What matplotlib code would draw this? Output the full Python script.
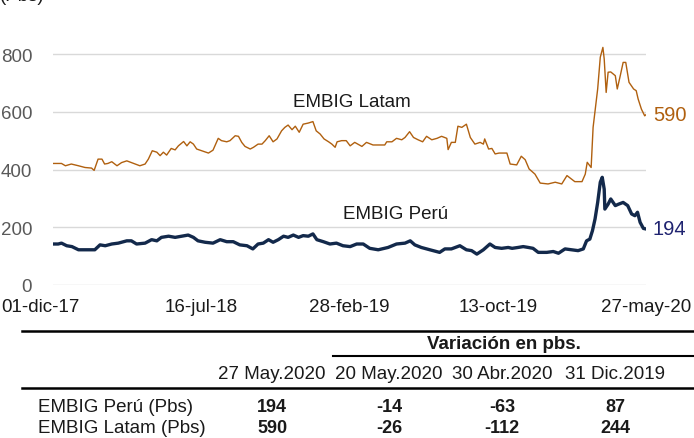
import numpy as np
import pandas as pd
import matplotlib
matplotlib.use("Agg")
import matplotlib.pyplot as plt
from matplotlib.transforms import ScaledTranslation

plt.rcParams["font.family"] = ["Liberation Sans", "DejaVu Sans"]

START = "2017-12-01"
# days since 01-dic-17 and spread level (pbs)
latam_day = [0, 13, 19, 28, 39, 49, 59, 63, 69, 75, 79, 84, 90, 98, 105, 113, 120, 133, 141,
             146, 152, 159, 164, 169, 174, 181, 187, 192, 200, 205, 210, 215, 220, 225, 238,
             245, 253, 258, 266, 271, 279, 284, 289, 294, 302, 307, 314, 320, 325, 331, 337,
             343, 350, 355, 360, 366, 371, 377, 383, 391, 398, 403, 409, 415, 422, 427, 432,
             435, 442, 449, 455, 462, 473, 480, 490, 508, 511, 519, 526, 534, 539, 546, 552,
             559, 566, 572, 580, 588, 595, 603, 605, 610, 616, 620, 626, 633, 639, 646, 654,
             659, 661, 667, 672, 677, 683, 695, 700, 710, 717, 723, 729, 738, 746, 758, 769,
             779, 787, 794, 799, 810, 815, 818, 824, 827, 831, 834, 838, 842, 844, 847, 850,
             854, 861, 864, 868, 873, 877, 882, 889, 893, 896, 901, 906, 908]
latam_val = [421, 421, 413, 419, 413, 407, 405, 397, 436, 436, 419, 421, 427, 413, 424, 430, 424, 413, 419,
             436, 465, 460, 448, 460, 450, 473, 468, 482, 497, 482, 496, 488, 471, 467, 457,
             467, 508, 500, 496, 500, 517, 515, 494, 480, 471, 477, 488, 488, 500, 517, 496,
             506, 534, 546, 554, 538, 550, 529, 557, 561, 566, 534, 523, 506, 496, 488, 477,
             496, 500, 500, 482, 494, 480, 494, 485, 485, 496, 496, 508, 503, 511, 531, 511,
             503, 496, 515, 503, 508, 515, 508, 469, 494, 494, 550, 546, 557, 511, 488, 494,
             488, 506, 471, 473, 454, 457, 457, 419, 416, 446, 434, 402, 384, 353, 350, 356,
             350, 379, 367, 358, 358, 384, 425, 407, 546, 621, 679, 789, 823, 783, 667, 737,
             738, 725, 679, 719, 771, 771, 702, 679, 673, 644, 609, 586, 590]

peru_day = [0, 8, 13, 21, 29, 39, 64, 72, 80, 90, 100, 113, 120, 128, 141, 151, 159, 166, 177,
            187, 197, 207, 215, 222, 233, 245, 256, 266, 276, 286, 297, 306, 314, 322, 330,
            337, 345, 353, 360, 368, 376, 383, 391, 398, 404, 414, 424, 434, 444, 455, 465,
            475, 485, 498, 513, 526, 539, 547, 554, 564, 577, 592, 600, 610, 623, 633, 641,
            649, 659, 669, 677, 687, 697, 703, 712, 720, 728, 735, 743, 756, 766, 774, 784,
            794, 804, 812, 817, 822, 826, 830, 834, 838, 841, 844, 845, 850, 854, 861, 866,
            873, 880, 886, 891, 895, 899, 904, 908]
peru_val = [142, 142, 145, 136, 133, 122, 122, 139, 136, 142, 145, 153, 153, 142, 145, 157, 153, 165, 169,
            165, 169, 173, 165, 153, 148, 145, 157, 150, 150, 139, 136, 125, 142, 145, 157,
            148, 157, 169, 165, 173, 165, 171, 169, 177, 157, 150, 142, 145, 136, 133, 142,
            142, 127, 122, 130, 142, 145, 153, 139, 130, 122, 113, 125, 125, 136, 122, 119,
            107, 122, 142, 130, 127, 130, 127, 130, 133, 130, 127, 113, 113, 116, 110, 125,
            122, 119, 125, 153, 159, 188, 229, 286, 356, 373, 332, 263, 280, 298, 275, 280,
            286, 275, 246, 240, 252, 217, 196, 194]

tick_dates = ["2017-12-01", "2018-07-16", "2019-02-28", "2019-10-13", "2020-05-27"]
tick_labels = ["01-dic-17", "16-jul-18", "28-feb-19", "13-oct-19", "27-may-20"]
yticks = [0, 200, 400, 600, 800]

tbl_cols = ["27 May.2020", "20 May.2020", "30 Abr.2020", "31 Dic.2019"]
tbl_rows = ["EMBIG Perú (Pbs)", "EMBIG Latam (Pbs)"]
tbl_vals = [["194", "-14", "-63", "87"],
            ["590", "-26", "-112", "244"]]

ORANGE = "#B0600F"
NAVY = "#13294B"
INK = "#1a1a1a"
W, H = 694, 439


def fx(px):
    return px / W


def fy(py):
    return 1 - py / H


t0 = pd.Timestamp(START)
latam_x = t0 + pd.to_timedelta(latam_day, unit="D")
peru_x = t0 + pd.to_timedelta(peru_day, unit="D")

fig = plt.figure(figsize=(W / 100, H / 100), dpi=100)
# axes: 0 at y=286px, 850 at y~40px
ax = fig.add_axes([fx(53), fy(286), fx(646) - fx(53), fy(40.6) - fy(286)])
ax.plot(latam_x, latam_val, color=ORANGE, lw=1.0, zorder=3)
ax.plot(peru_x, peru_val, color=NAVY, lw=2.4, zorder=4)
ax.set_xlim(pd.Timestamp(tick_dates[0]), pd.Timestamp(tick_dates[-1]))
ax.set_ylim(0, 850)
ax.set_yticks(yticks)
ax.set_xticks(pd.to_datetime(tick_dates))
ax.set_xticklabels(tick_labels)
ax.grid(axis="y", color="#d9d9d9", lw=1.0)
ax.set_axisbelow(True)
for s in ax.spines.values():
    s.set_visible(False)
ax.tick_params(axis="both", length=0, labelsize=13.5)
ax.tick_params(axis="y", labelcolor="#595959", pad=15)
ax.tick_params(axis="x", labelcolor=INK, pad=9)
# first date label sits a bit left of its tick, as in the source
first = ax.get_xticklabels()[0]
first.set_transform(first.get_transform() + ScaledTranslation(-0.13, 0, fig.dpi_scale_trans))

ax.text(pd.Timestamp("2019-03-04"), 634, "EMBIG Latam", fontsize=13.5, ha="center", va="center", color=INK)
ax.text(pd.Timestamp("2019-05-09"), 246, "EMBIG Perú", fontsize=13.5, ha="center", va="center", color=INK)
ax.annotate(str(latam_val[-1]), (latam_x[-1], latam_val[-1]), xytext=(5, 0),
            textcoords="offset points", color=ORANGE, fontsize=14.5, va="center", annotation_clip=False)
ax.annotate(str(peru_val[-1]), (peru_x[-1], peru_val[-1]), xytext=(5, 0),
            textcoords="offset points", color="#1F2370", fontsize=14.5, va="center", annotation_clip=False)

fig.text(fx(0), fy(-3), "(Pbs)", fontsize=13.5, va="center", ha="left", color=INK)

# table below the chart
fig.add_artist(plt.Line2D([fx(22), fx(694)], [fy(332), fy(332)], color="black", lw=1.8))
fig.add_artist(plt.Line2D([fx(333), fx(694)], [fy(357), fy(357)], color="black", lw=1.5))
fig.add_artist(plt.Line2D([fx(22), fx(694)], [fy(389), fy(389)], color="black", lw=1.8))
fig.text(fx(504), fy(345), "Variación en pbs.", fontsize=13.5, fontweight="bold",
         ha="center", va="center", color=INK)
col_x = [272, 389, 502, 615]
for cx, lab in zip(col_x, tbl_cols):
    fig.text(fx(cx), fy(375), lab, fontsize=13.5, ha="center", va="center", color=INK)
row_y = [408, 429]
for ry, lab, vals in zip(row_y, tbl_rows, tbl_vals):
    fig.text(fx(38), fy(ry), lab, fontsize=13.5, ha="left", va="center", color=INK)
    for cx, v in zip(col_x, vals):
        fig.text(fx(cx), fy(ry), v, fontsize=13, fontweight="bold", ha="center", va="center",
                 color=INK)

fig.savefig("out.png", dpi=100)
